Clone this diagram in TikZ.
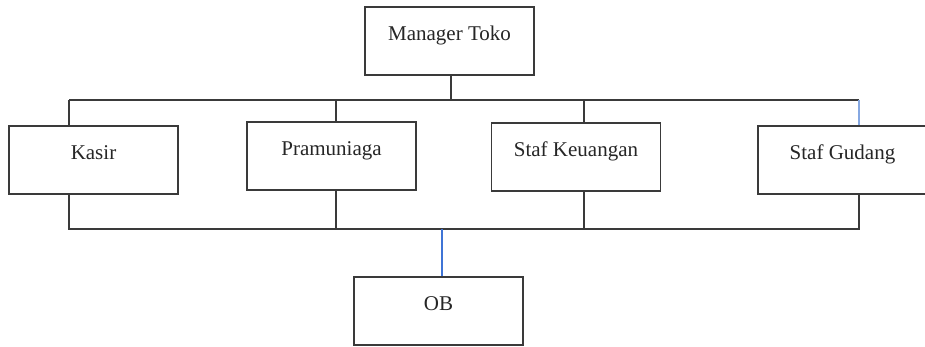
\documentclass[tikz,border=0pt]{standalone}
\usepackage{fontspec}
\setmainfont{Liberation Serif}
\usetikzlibrary{calc}
\definecolor{linegray}{HTML}{3A3A3A}
\definecolor{linkblue}{HTML}{3F74D6}
\definecolor{paleblue}{HTML}{86A8E2}
\begin{document}
\begin{tikzpicture}[x=1pt, y=-1pt,
  orgbox/.style={draw=linegray, line width=1.4pt, fill=white, minimum width=169pt,
    inner xsep=0pt, inner ysep=0pt, text height=33pt, text depth=35pt,
    anchor=base, text=black!85, font=\fontsize{21}{25}\selectfont},
  wire/.style={draw=linegray, line width=1.4pt},
  bluewire/.style={draw=linkblue, line width=1.2pt},
  palewire/.style={draw=paleblue, line width=1.2pt}]
  \useasboundingbox (0,0) rectangle (925,346);

  % bus lines above and below the staff row
  \coordinate (topL) at (69,100);
  \coordinate (topR) at (859,100);
  \coordinate (botL) at (69,229);
  \coordinate (botR) at (859,229);
  \coordinate (topM) at (451,100);
  \coordinate (botOB) at (442,229);
  \coordinate (topP) at (336,100);
  \coordinate (topK) at (584,100);
  \coordinate (botP) at (336,229);
  \coordinate (botK) at (584,229);

  % boxes
  \node[orgbox] (mgr) at (449.5,40) {Manager Toko};
  \node[orgbox] (kasir) at (93.5,159) {Kasir};
  \node[orgbox] (pram) at (331.5,155) {Pramuniaga};
  \node[orgbox] (keu) at (576,156) {Staf Keuangan};
  \node[orgbox, minimum width=180pt] (gud) at (848,159) {\hspace*{-11pt}Staf Gudang};
  \node[orgbox] (ob) at (438.5,310) {OB};

  % upper tree
  \draw[wire] (topM |- mgr.south) -- (topM);
  \draw[wire] (topL) -- (topR);
  \draw[wire] (topL) -- (topL |- kasir.north);
  \draw[wire] (topP) -- (topP |- pram.north);
  \draw[wire] (topK) -- (topK |- keu.north);
  \draw[palewire] (topR) -- (topR |- gud.north);

  % lower tree
  \draw[wire] (botL |- kasir.south) -- (botL) -- (botR) -- (botR |- gud.south);
  \draw[wire] (botP |- pram.south) -- (botP);
  \draw[wire] (botK |- keu.south) -- (botK);
  \draw[bluewire] (botOB) -- (botOB |- ob.north);
\end{tikzpicture}
\end{document}
